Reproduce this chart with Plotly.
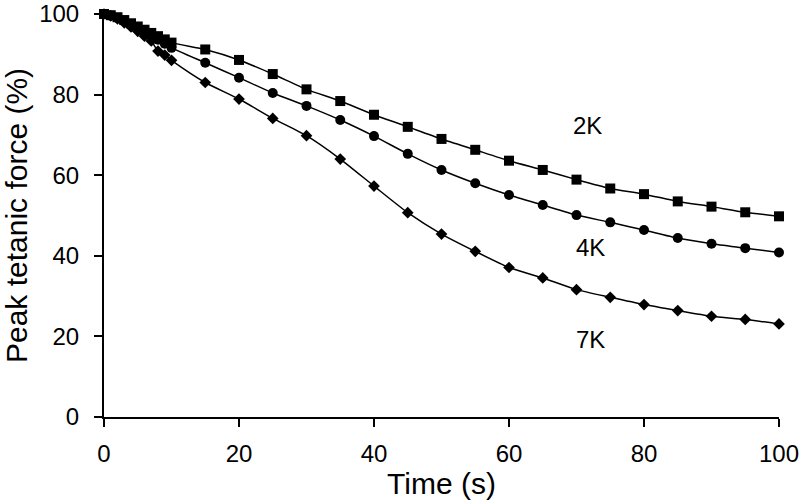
import plotly.graph_objects as go

time_s = [0, 1, 2, 3, 4, 5, 6, 7, 8, 9, 10, 15, 20, 25, 30, 35, 40, 45, 50, 55, 60, 65, 70, 75, 80, 85, 90, 95, 100]

force_2k = [100, 99.7, 99.2, 98.5, 97.7, 96.9, 96.1, 95.3, 94.5, 93.7, 92.9,
            91.2, 88.6, 85.1, 81.3, 78.4, 75.0, 72.0, 69.0, 66.3, 63.6,
            61.3, 58.9, 56.7, 55.3, 53.5, 52.2, 50.8, 49.8]
force_4k = [100, 99.6, 99.0, 98.2, 97.3, 96.4, 95.5, 94.6, 93.6, 92.6, 91.6,
            87.9, 84.2, 80.4, 77.2, 73.7, 69.7, 65.3, 61.3, 58.0, 55.1,
            52.6, 50.1, 48.3, 46.4, 44.4, 43.0, 41.9, 40.8]
force_7k = [100, 99.5, 98.8, 97.8, 96.8, 95.7, 94.5, 93.3, 90.8, 89.8, 88.5,
            83.0, 78.9, 74.1, 69.8, 64.0, 57.3, 50.7, 45.4, 41.1, 37.1,
            34.5, 31.6, 29.7, 27.9, 26.4, 25.0, 24.2, 23.1]

series = [("2K", force_2k, "square", 10), ("4K", force_4k, "circle", 10), ("7K", force_7k, "diamond", 9)]
label_pos = {"2K": (71.6, 72.4), "4K": (72.1, 42.0), "7K": (72.0, 19.2)}

FONT = "Liberation Sans, Arial"
fig = go.Figure()
for name, ys, sym, sz in series:
    fig.add_trace(go.Scatter(
        x=time_s, y=ys, mode="lines+markers", name=name,
        line=dict(color="black", width=1.5, shape="spline", smoothing=0.6),
        marker=dict(symbol=sym, size=sz, color="black"),
        cliponaxis=False, showlegend=False))
    lx, ly = label_pos[name]
    fig.add_annotation(x=lx, y=ly, text=name, showarrow=False,
                       font=dict(family=FONT, size=24, color="black"))

axis_font = dict(family=FONT, size=24, color="black")
fig.update_xaxes(range=[0, 100], tickvals=[0, 20, 40, 60, 80, 100], showgrid=False, zeroline=False,
                 showline=True, linecolor="black", linewidth=2, ticks="outside", ticklen=8,
                 tickwidth=2, tickcolor="black", tickfont=axis_font, automargin=False,
                 ticklabelstandoff=6, ticklabeloverflow="allow",
                 title=dict(text="Time (s)", font=dict(family=FONT, size=30, color="black"), standoff=4))
fig.update_yaxes(range=[0, 100], tickvals=[0, 20, 40, 60, 80, 100], showgrid=False, zeroline=False,
                 showline=True, linecolor="black", linewidth=2, ticks="outside", ticklen=8,
                 tickwidth=2, tickcolor="black", tickfont=axis_font, automargin=False,
                 ticklabelstandoff=10, ticklabeloverflow="allow",
                 title=dict(text="Peak tetanic force (%)", font=dict(family=FONT, size=30, color="black"), standoff=8))
fig.update_layout(width=800, height=504, paper_bgcolor="white", plot_bgcolor="white",
                  margin=dict(l=104, r=21, t=14, b=87, autoexpand=False))
fig.write_html("out.html", config={"displayModeBar": False},
               post_script="document.body.style.margin='0';")
